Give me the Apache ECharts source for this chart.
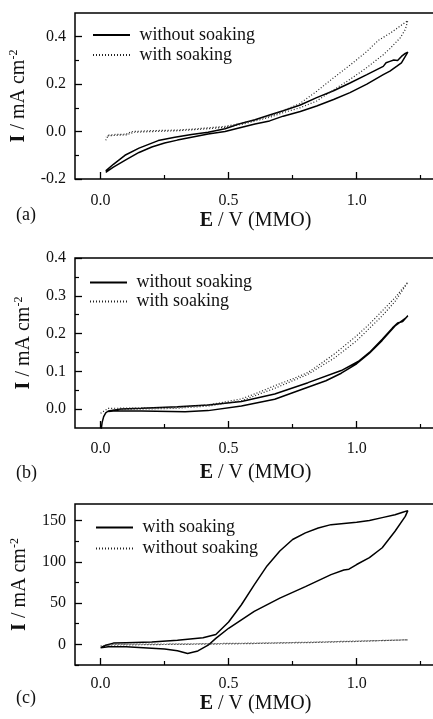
<!DOCTYPE html>
<html>
<head>
<meta charset="utf-8">
<script src="https://cdn.jsdelivr.net/npm/echarts@6/dist/echarts.min.js"></script>
<style>
    * { margin: 0; padding: 0; }
    body { background: #fff; }
    #main { width: 433px; height: 719px; }
</style>
</head>
<body>
<div id="main"></div>
<script>
    // tick positions
    const eTicks = [0.0, 0.5, 1.0]
    const eMinor = [0.25, 0.75, 1.25]
    const aTicks = [-0.2, 0.0, 0.2, 0.4]
    const aMinor = [-0.1, 0.1, 0.3]
    const bTicks = [0.0, 0.1, 0.2, 0.3, 0.4]
    const bMinor = [0.05, 0.15, 0.25, 0.35]
    const cTicks = [0, 50, 100, 150]
    const cMinor = [-25, 25, 75, 125]

    // legend names per panel
    const abNames = ['without soaking', 'with soaking']
    const cNames = ['with soaking', 'without soaking']

    // (a) [E, I]
    const aWithout = [
        [0.02, -0.172], [0.05, -0.15], [0.1, -0.118], [0.15, -0.088], [0.2, -0.065], [0.25, -0.048],
        [0.3, -0.036], [0.355, -0.024], [0.42, -0.01], [0.486, 0.0], [0.54, 0.015], [0.603, 0.032],
        [0.66, 0.045], [0.713, 0.065], [0.78, 0.085], [0.844, 0.108], [0.91, 0.135], [0.974, 0.164],
        [1.04, 0.2], [1.104, 0.24], [1.13, 0.255], [1.156, 0.275], [1.175, 0.29], [1.2, 0.335],
        [1.19, 0.33], [1.175, 0.317], [1.16, 0.3], [1.145, 0.302], [1.13, 0.296], [1.115, 0.29],
        [1.104, 0.275], [1.04, 0.24], [0.974, 0.205], [0.91, 0.172], [0.844, 0.143], [0.78, 0.112],
        [0.713, 0.088], [0.66, 0.07], [0.603, 0.05], [0.54, 0.032], [0.486, 0.012], [0.42, -0.003],
        [0.355, -0.012], [0.29, -0.024], [0.225, -0.038], [0.15, -0.07], [0.095, -0.1], [0.05, -0.138],
        [0.02, -0.166]
    ]
    const aWith = [
        [0.02, -0.037], [0.03, -0.015], [0.06, -0.012], [0.1, -0.011], [0.12, 0.0], [0.2, 0.004],
        [0.29, 0.006], [0.355, 0.01], [0.42, 0.016], [0.486, 0.022], [0.55, 0.035], [0.603, 0.048],
        [0.66, 0.065], [0.713, 0.088], [0.778, 0.118], [0.844, 0.17], [0.909, 0.226], [0.974, 0.28],
        [1.039, 0.337], [1.085, 0.385], [1.13, 0.414], [1.17, 0.445], [1.2, 0.468],
        [1.19, 0.43], [1.17, 0.395], [1.13, 0.35], [1.104, 0.324], [1.04, 0.27], [0.974, 0.22],
        [0.909, 0.175], [0.844, 0.129], [0.778, 0.1], [0.713, 0.08], [0.66, 0.06], [0.603, 0.044],
        [0.55, 0.03], [0.486, 0.018], [0.42, 0.012], [0.355, 0.007], [0.29, 0.003], [0.2, 0.0],
        [0.13, -0.003], [0.1, -0.014], [0.06, -0.016], [0.03, -0.018], [0.02, -0.022]
    ]

    // (b)
    const bWithout = [
        [0.002, -0.055], [0.006, -0.035], [0.012, -0.02], [0.02, -0.01], [0.03, -0.005], [0.08, 0.0],
        [0.16, 0.002], [0.3, 0.006], [0.42, 0.011], [0.55, 0.02], [0.68, 0.04], [0.81, 0.07],
        [0.94, 0.102], [1.006, 0.126], [1.05, 0.15], [1.1, 0.185], [1.14, 0.215], [1.16, 0.228],
        [1.18, 0.232], [1.2, 0.247],
        [1.19, 0.24], [1.17, 0.23], [1.15, 0.22], [1.1, 0.182], [1.05, 0.148], [1.0, 0.12],
        [0.94, 0.095], [0.88, 0.075], [0.785, 0.052], [0.68, 0.026], [0.55, 0.008], [0.42, -0.004],
        [0.33, -0.007], [0.16, -0.005], [0.05, -0.005], [0.03, -0.006]
    ]
    const bWith = [
        [0.0, -0.011], [0.03, 0.002], [0.15, 0.003], [0.29, 0.004], [0.42, 0.011], [0.55, 0.027],
        [0.62, 0.045], [0.68, 0.062], [0.75, 0.08], [0.81, 0.097], [0.87, 0.125], [0.915, 0.147],
        [1.0, 0.194], [1.05, 0.225], [1.1, 0.26], [1.15, 0.295], [1.2, 0.336],
        [1.15, 0.285], [1.1, 0.247], [1.0, 0.181], [0.915, 0.136], [0.81, 0.092], [0.68, 0.055],
        [0.55, 0.022], [0.42, 0.008], [0.29, 0.002], [0.15, 0.0], [0.05, -0.002]
    ]

    // (c)
    const cWith = [
        [0.0, -4], [0.02, -1], [0.05, 1.5], [0.1, 2], [0.2, 3], [0.3, 5], [0.4, 8], [0.45, 12],
        [0.5, 27], [0.55, 48], [0.6, 72], [0.65, 95], [0.7, 113], [0.75, 127], [0.8, 135], [0.85, 141],
        [0.9, 145], [1.0, 148], [1.05, 150], [1.1, 153.5], [1.15, 157], [1.18, 160], [1.2, 162],
        [1.19, 155], [1.15, 137], [1.1, 117], [1.05, 105], [1.0, 96.7], [0.97, 91], [0.95, 90],
        [0.9, 84.5], [0.8, 70], [0.7, 56], [0.6, 40], [0.5, 19.5], [0.45, 7.3], [0.42, -1],
        [0.38, -8], [0.34, -11], [0.3, -7.8], [0.25, -5.7], [0.1, -2.9], [0.03, -3], [0.0, -4]
    ]
    const cWithout = [
        [0.0, -2], [0.05, 0], [0.2, 0.3], [0.4, 0.8], [0.6, 1.5], [0.8, 2.5], [1.0, 4], [1.2, 5.5],
        [1.0, 3.5], [0.8, 2], [0.5, 0.5], [0.2, -0.3], [0.02, -1]
    ]

    const FONT = '"Liberation Serif", "Times New Roman", serif'
    const INK = '#111'

    // panel boxes: top, height, y range, ticks, label/title offsets
    const panels = [
        {key: 'a', top: 13, height: 166, min: -0.2, max: 0.5, ticks: aTicks, minor: aMinor, fix: 1,
            xMargin: 14, xGap: 26, names: abNames, legendLeft: 92, legendTop: 25, rowH: 20, tag: 206},
        {key: 'b', top: 258, height: 170, min: -0.05, max: 0.4, ticks: bTicks, minor: bMinor, fix: 1,
            xMargin: 13, xGap: 34, names: abNames, legendLeft: 89, legendTop: 273, rowH: 19, tag: 464},
        {key: 'c', top: 504, height: 161, min: -25, max: 170, ticks: cTicks, minor: cMinor, fix: 0,
            xMargin: 11, xGap: 24, names: cNames, legendLeft: 95, legendTop: 517, rowH: 21, tag: 689}
    ]
    const seriesData = {
        'a:without soaking': aWithout, 'a:with soaking': aWith,
        'b:without soaking': bWithout, 'b:with soaking': bWith,
        'c:with soaking': cWith, 'c:without soaking': cWithout
    }
    const solidName = {a: 'without soaking', b: 'without soaking', c: 'with soaking'}

    const labelStyle = {color: INK, fontFamily: FONT, fontSize: 16}
    const nameStyle = {
        color: INK, fontFamily: FONT, fontSize: 20, lineHeight: 22,
        rich: {
            b: {fontWeight: 'bold', fontFamily: FONT, fontSize: 20, color: INK, lineHeight: 22},
            s: {fontFamily: FONT, fontSize: 12, color: INK, verticalAlign: 'top', lineHeight: 13}
        }
    }

    let grids = [], xAxes = [], yAxes = [], series = [], legends = [], graphics = []
    panels.forEach(function (p, i) {
        // box runs past the right edge of the picture, as in the reference
        let rect = {left: 75, top: p.top, width: 361, height: p.height, outerBoundsMode: 'none', containLabel: false}
        grids.push(Object.assign({show: true, borderColor: '#000', borderWidth: 1.5, backgroundColor: 'transparent'}, rect))
        // overlay grid for the short minor ticks
        grids.push(Object.assign({show: false}, rect))

        xAxes.push({
            type: 'value', gridIndex: 2 * i, min: -0.1, max: 1.31,
            axisLine: {show: false, onZero: false},
            axisTick: {show: true, inside: true, length: 7, customValues: eTicks, lineStyle: {color: '#000', width: 1.3}},
            axisLabel: Object.assign({customValues: eTicks, margin: p.xMargin, formatter: v => v.toFixed(1)}, labelStyle),
            splitLine: {show: false},
            name: '{b|E} / V (MMO)', nameLocation: 'middle', nameGap: p.xGap, nameTextStyle: nameStyle
        })
        xAxes.push({
            type: 'value', gridIndex: 2 * i + 1, min: -0.1, max: 1.31,
            axisLine: {show: false, onZero: false},
            axisTick: {show: true, inside: true, length: 4, customValues: eMinor, lineStyle: {color: '#000', width: 1.2}},
            axisLabel: {show: false}, splitLine: {show: false}
        })
        yAxes.push({
            type: 'value', gridIndex: 2 * i, min: p.min, max: p.max,
            axisLine: {show: false, onZero: false},
            axisTick: {show: true, inside: true, length: 7, customValues: p.ticks, lineStyle: {color: '#000', width: 1.3}},
            axisLabel: Object.assign({customValues: p.ticks, margin: 9, formatter: v => v.toFixed(p.fix)}, labelStyle),
            splitLine: {show: false},
            name: '{b|I} / mA cm{s|-2}', nameLocation: 'middle', nameGap: 40, nameTextStyle: nameStyle
        })
        yAxes.push({
            type: 'value', gridIndex: 2 * i + 1, min: p.min, max: p.max,
            axisLine: {show: false, onZero: false},
            axisTick: {show: true, inside: true, length: 4, customValues: p.minor, lineStyle: {color: '#000', width: 1.2}},
            axisLabel: {show: false}, splitLine: {show: false}
        })

        p.names.forEach(function (n) {
            let id = p.key + ':' + n
            let solid = n === solidName[p.key]
            series.push({
                name: id, type: 'line', xAxisIndex: 2 * i, yAxisIndex: 2 * i,
                data: seriesData[id], symbol: 'none', showSymbol: false, smooth: false,
                lineStyle: solid ? {color: '#000', width: 1.5, type: 'solid'}
                                 : {color: '#222', width: 1.2, type: [1, 2]},
                itemStyle: {color: '#000'}
            })
        })

        legends.push({
            data: p.names.map(n => p.key + ':' + n),
            orient: 'vertical', left: p.legendLeft, top: p.legendTop, padding: 0,
            itemWidth: 37, itemHeight: 14, itemGap: 0,
            // hide the marker dot, keep only the line sample
            itemStyle: {opacity: 0, color: 'transparent', borderColor: 'transparent', borderWidth: 0},
            formatter: n => ' ' + n.split(':')[1],
            textStyle: {color: INK, fontFamily: FONT, fontSize: 18, lineHeight: p.rowH}
        })

        graphics.push({
            type: 'text', left: 16, top: p.tag,
            style: {text: '(' + p.key + ')', font: '18px ' + FONT, fill: INK}
        })
    })

    let myChart = echarts.init(document.getElementById('main'), null, {renderer: 'canvas'})
    myChart.setOption({
        animation: false,
        backgroundColor: '#fff',
        grid: grids,
        xAxis: xAxes,
        yAxis: yAxes,
        legend: legends,
        series: series,
        graphic: graphics
    })
</script>
</body>
</html>
